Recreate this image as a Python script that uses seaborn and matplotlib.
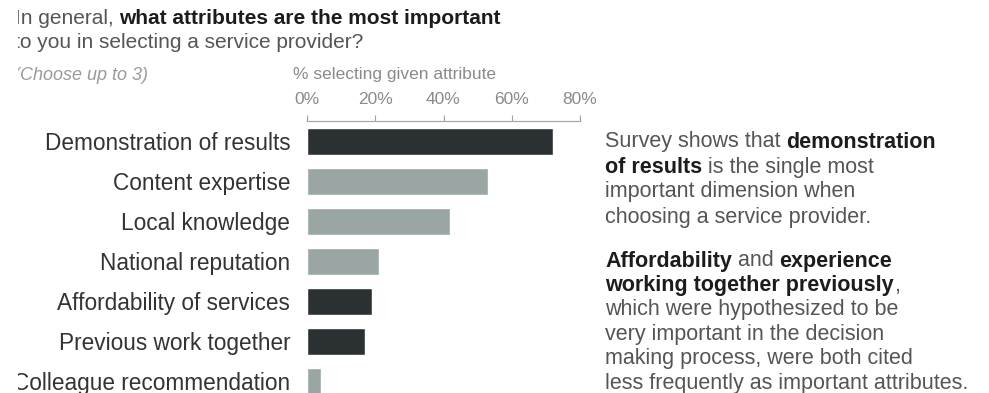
import matplotlib
matplotlib.use("Agg")
import matplotlib.pyplot as plt
import seaborn as sns
import pandas as pd
from matplotlib.patches import Rectangle

# ---- data -------------------------------------------------------------
attributes = [
    "Demonstration of results",
    "Content expertise",
    "Local knowledge",
    "National reputation",
    "Affordability of services",
    "Previous work together",
    "Colleague recommendation",
]
pct_selecting = [72, 53, 42, 21, 19, 17, 4]
emphasis = ["key", "other", "other", "other", "key", "key", "other"]
tick_values = [0, 20, 40, 60, 80]
tick_labels = ["0%", "20%", "40%", "60%", "80%"]

df = pd.DataFrame({"attribute": attributes, "pct": pct_selecting, "group": emphasis})

# ---- style ------------------------------------------------------------
sns.set_theme(style="white")
FONT = ["Liberation Sans", "DejaVu Sans"]
plt.rcParams["font.family"] = FONT

DARK_BAR = "#2b3133"
LIGHT_BAR = "#9aa6a4"
palette = {"key": DARK_BAR, "other": LIGHT_BAR}

W, H = 989, 393
fig = plt.figure(figsize=(W / 100, H / 100), dpi=100, facecolor="white")


def fx(px):
    return px / W


def fy(py):
    return 1 - py / H


# bar panel: 0% at x=307px, 80% at x=580px, axis line at y=121px
ax = fig.add_axes([fx(307), 0, (580 - 307) / W, (H - 121) / H])
sns.barplot(
    data=df, y="attribute", x="pct", hue="group", palette=palette,
    order=attributes, dodge=False, width=0.675, legend=False,
    saturation=1, ax=ax,
)
ax.set_xlim(0, 80)
ax.set_ylim(6.3, -0.5)
ax.set_xlabel("")
ax.set_ylabel("")

ax.xaxis.tick_top()
ax.set_xticks(tick_values)
ax.set_xticklabels(tick_labels)
ax.tick_params(axis="x", top=True, bottom=False, length=4, width=0.8,
               color="#a0a0a0", pad=6, labelsize=12.5, labelcolor="#8a8a8a")
ax.tick_params(axis="y", left=False, length=0, pad=12, labelsize=16.3,
               labelcolor="#333333")
for side in ("left", "right", "bottom"):
    ax.spines[side].set_visible(False)
ax.spines["top"].set_color("#a8a8a8")
ax.spines["top"].set_linewidth(0.9)
ax.set_facecolor("white")

fig.text(fx(293), fy(75), "% selecting given attribute", fontsize=12.5,
         color="#8a8a8a", va="center", ha="left")

# ---- mixed-weight text lines -------------------------------------------
fig.canvas.draw()
renderer = fig.canvas.get_renderer()


def text_width(s, size, weight):
    t = fig.text(0, 0, s, fontsize=size, fontweight=weight)
    w = t.get_window_extent(renderer).width
    t.remove()
    return w


def rich_line(x_px, y_px, runs, size):
    x = x_px
    for s, bold, color in runs:
        weight = "bold" if bold else "normal"
        body = s.rstrip(" ")
        trailing = len(s) - len(body)
        t = fig.text(fx(x), fy(y_px), body, fontsize=size, fontweight=weight,
                     color=color, va="center", ha="left")
        x += t.get_window_extent(renderer).width
        if trailing:
            space = text_width("a a", size, weight) - text_width("aa", size, weight)
            x += trailing * space


GREY = "#555555"
BLACK = "#1c1c1c"

# question heading
rich_line(15, 19, [("In general, ", False, GREY),
                   ("what attributes are the most important", True, BLACK)], 15)
rich_line(14, 43, [("to you in selecting a service provider?", False, GREY)], 15)
fig.text(fx(14.5), fy(76), "(Choose up to 3)", fontsize=13, style="italic",
         color="#9a9a9a", va="center", ha="left")

# commentary
para1 = [
    [("Survey shows that ", False, GREY), ("demonstration", True, BLACK)],
    [("of results", True, BLACK), (" is the single most", False, GREY)],
    [("important dimension when", False, GREY)],
    [("choosing a service provider.", False, GREY)],
]
para2 = [
    [("Affordability", True, BLACK), (" and ", False, GREY), ("experience", True, BLACK)],
    [("working together previously", True, BLACK), (",", False, GREY)],
    [("which were hypothesized to be", False, GREY)],
    [("very important in the decision", False, GREY)],
    [("making process, were both cited", False, GREY)],
    [("less frequently as important attributes.", False, GREY)],
]
for i, runs in enumerate(para1):
    rich_line(605, 142 + 25 * i, runs, 15.5)
for i, runs in enumerate(para2):
    rich_line(605, 261 + 24.4 * i, runs, 15.5)

# left edge of the panel is cut off
fig.add_artist(Rectangle((0, 0), fx(18), 1, transform=fig.transFigure,
                         facecolor="white", edgecolor="none", zorder=100))

fig.savefig("out.png", dpi=100, facecolor="white")
